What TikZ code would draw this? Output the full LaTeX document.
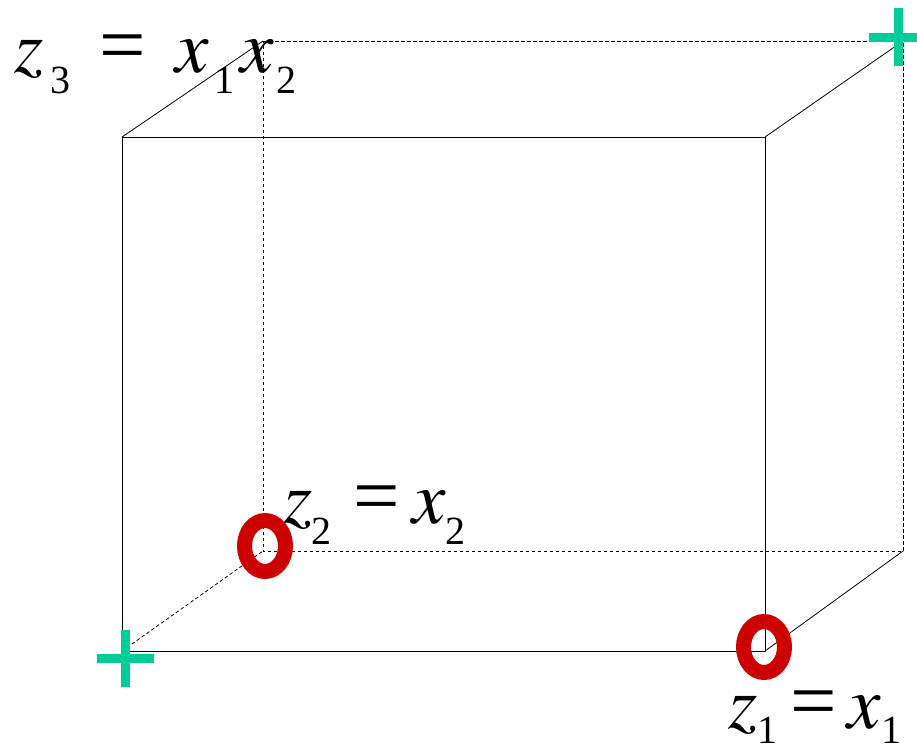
\documentclass[tikz,border=0pt]{standalone}
\usepackage[no-math]{fontspec}
\usepackage{mathptmx}
\setmainfont{Liberation Serif}
\newcommand\sbs[2][21pt]{\raisebox{-#1}{\fontsize{40}{40}\selectfont #2}}
\newcommand\itl[1]{$#1$}
\newcommand\eqs{\scalebox{1.1}{=}}
\definecolor{mkgreen}{RGB}{0,204,153}
\definecolor{mkred}{RGB}{204,0,0}
\tikzset{
  edge/.style={line width=0.8pt, black},
  hid/.style={line width=0.8pt, black, dash pattern=on 3.5pt off 2.5pt},
  lab/.style={inner sep=0pt, outer sep=0pt, anchor=base west, font=\fontsize{75}{75}\selectfont},
  plusmk/.style={line width=9pt, mkgreen},
  omk/.style={line width=15pt, mkred},
}
\begin{document}
\begin{tikzpicture}[x=1pt,y=-1pt]
\useasboundingbox (0,0) rectangle (917,750);
% cube corners
\coordinate (ftl) at (122,137);
\coordinate (ftr) at (765,137);
\coordinate (fbr) at (765,651);
\coordinate (fbl) at (122,651);
\coordinate (btl) at (263,41);
\coordinate (btr) at (903,41);
\coordinate (bbr) at (903,551);
\coordinate (bbl) at (263,551);
% hidden edges
\draw[hid] (btl) -- (btr) -- (bbr) -- (bbl) -- cycle;
\draw[hid] (fbl) -- (bbl);
% visible edges
\draw[edge] (ftl) rectangle (fbr);
\draw[edge] (ftl) -- (btl);
\draw[edge] (ftr) -- (btr);
\draw[edge] (fbr) -- (bbr);
% labels
\node[lab] (l3) at (14,72) {\itl{z}\kern7pt\sbs{3}\kern29pt\eqs\kern30pt\itl{x}\kern5pt\sbs{1}\kern6pt\itl{x}\kern3pt\sbs{2}};
\node[lab] (l2) at (283,523) {\itl{z}\kern-1pt\sbs{2}\kern22pt\eqs\kern13pt\itl{x}\kern-1pt\sbs{2}};
\node[lab] (l1) at (728,728) {\itl{z}\kern0pt\sbs[15pt]{1}\kern13pt\eqs\kern11pt\itl{x}\kern0pt\sbs[15pt]{1}};
% markers
\coordinate (p1) at (125,658);
\coordinate (p2) at (898,37);
\coordinate (o1) at (265,546);
\coordinate (o2) at (764,647);
\draw[plusmk] ([xshift=-28.5pt]p1) -- ([xshift=28.5pt]p1) ([yshift=-28.5pt]p1) -- ([yshift=28.5pt]p1);
\draw[plusmk] ([xshift=-29pt]p2) -- ([xshift=29pt]p2) ([yshift=-29pt]p2) -- ([yshift=29pt]p2);
\draw[omk] (o1) ellipse [x radius=20.5, y radius=25.5];
\draw[omk] (o2) ellipse [x radius=20.5, y radius=25.5];
\end{tikzpicture}
\end{document}
